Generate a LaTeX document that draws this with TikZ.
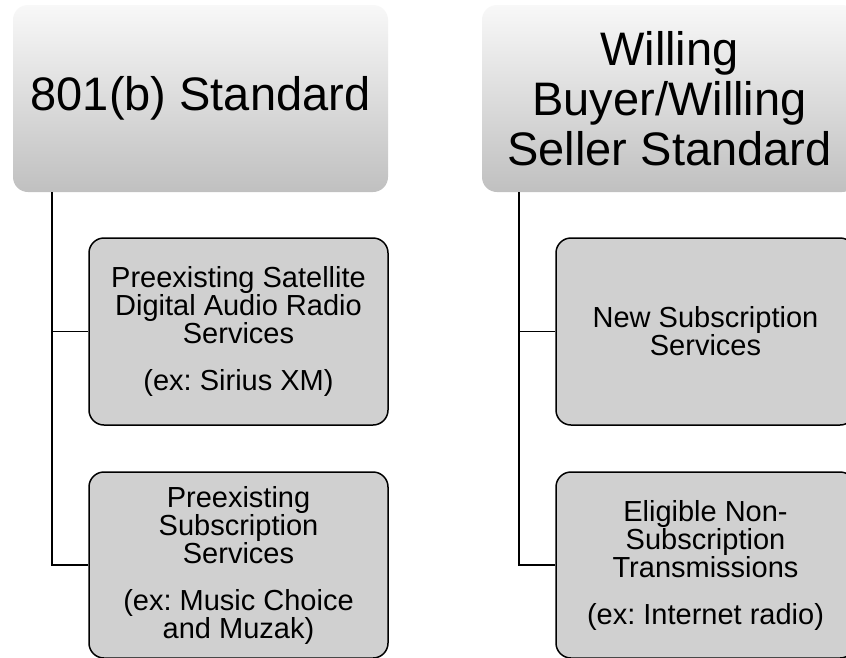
\documentclass[tikz,border=0pt]{standalone}
\usepackage{fontspec}
\setmainfont{Liberation Sans}
\usetikzlibrary{calc,backgrounds}
\definecolor{subfill}{HTML}{D0D0D0}
\definecolor{gtop}{HTML}{F8F8F8}
\definecolor{gbot}{HTML}{C0C0C0}
\lineskiplimit=-20pt
\frenchspacing
\begin{document}
\begin{tikzpicture}[x=1pt,y=-1pt,
  topbox/.style={rectangle, rounded corners=15pt, minimum width=375pt, minimum height=187pt,
    top color=gtop, bottom color=gbot, draw=none, align=center, inner sep=0pt,
    font=\fontsize{47}{50}\selectfont},
  subbox/.style={rectangle, rounded corners=15pt, minimum width=299pt, minimum height=187pt,
    draw=black, line width=1.5pt, fill=subfill, align=center, inner sep=0pt,
    font=\fontsize{29}{28}\selectfont},
  conn/.style={draw=black, line width=1.5pt}]
\clip (0,0) rectangle (846,657);
\fill[white] (0,0) rectangle (846,657);

\node[topbox] (tl) at (200.5,98.5) {801(b) Standard};
\node[topbox] (tr) at (669.5,98.5) {Willing\\Buyer/Willing\\Seller Standard};

\node[subbox] (s1) at (238.5,331.5) {Preexisting Satellite\\Digital Audio Radio\\Services\\[19pt](ex: Sirius XM)};
\node[subbox, minimum height=186pt] (s2) at (238.5,565) {Preexisting\\Subscription\\Services\\[19pt](ex: Music Choice\\and Muzak)};
\node[subbox] (s3) at (705.5,331.5) {New Subscription\\Services};
\node[subbox, minimum height=186pt] (s4) at (705.5,565) {Eligible Non-\\Subscription\\Transmissions\\[19pt](ex: Internet radio)};

\begin{scope}[on background layer]
  \foreach \n in {tl,tr}{
    \foreach \d in {-4,...,4}{
      \fill[black, opacity=0.045, rounded corners=15pt]
        ($(\n.north west)+(1+\d,5+\d)$) rectangle ($(\n.south east)+(1-\d,5-\d)$);
    }
  }
\end{scope}

\coordinate (lx) at ($(tl.south west)+(39,0)$);
\coordinate (rx) at ($(tr.south west)+(37,0)$);
\draw[conn] (lx) |- (s2.west);
\draw[conn] (lx |- s1.west) -- (s1.west);
\draw[conn] (rx) |- (s4.west);
\draw[conn] (rx |- s3.west) -- (s3.west);
\end{tikzpicture}
\end{document}
